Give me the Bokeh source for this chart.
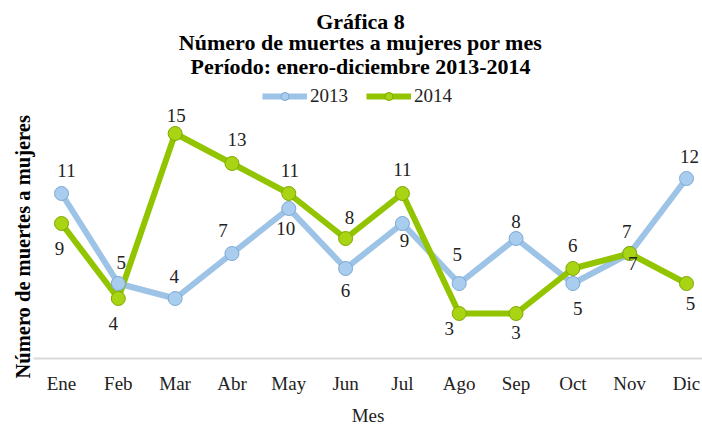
import math
from bokeh.plotting import figure
from bokeh.models import ColumnDataSource, FixedTicker, Label, Legend, LegendItem, Title
from bokeh.core.properties import value
from bokeh.embed import file_html
from bokeh.resources import INLINE

months = ["Ene", "Feb", "Mar", "Abr", "May", "Jun", "Jul", "Ago", "Sep", "Oct", "Nov", "Dic"]
deaths_2013 = [11, 5, 4, 7, 10, 6, 9, 5, 8, 5, 7, 12]
deaths_2014 = [9, 4, 15, 13, 11, 8, 11, 3, 3, 6, 7, 5]

# label placement (screen px offsets, style only)
dx13 = [5, 3, -1, -9, -3, 0, 2, -2, 0, 5, -3, 3]
dy13 = [-23, -21, -22, -23, 20, 22, 17, -29, -17, 25, -22, -22]
dx14 = [-2, -5, 1, 5, 1, 4, 0, -10, 0, 0, 3, 4]
dy14 = [25, 25, -18, -24, -23, -21, -24, 15, 19, -23, 10, 20]

FONT = "Liberation Serif"
TXT = "#222222"
BLUE = "#9DC3E6"
BLUE_M = "#A8CDEE"
BLUE_E = "#7EA8D2"
GREEN = "#92C400"
GREEN_M = "#A8D414"
GREEN_E = "#7FA800"

xs = list(range(len(months)))
src13 = ColumnDataSource(dict(x=xs, y=deaths_2013, t=[str(v) for v in deaths_2013], dx=dx13, dy=dy13))
src14 = ColumnDataSource(dict(x=xs, y=deaths_2014, t=[str(v) for v in deaths_2014], dx=dx14, dy=dy14))

p = figure(frame_width=669, frame_height=358, output_backend="svg", toolbar_location=None,
           x_range=(-0.4928, 11.2814), y_range=(0, 23.867),
           min_border_left=33, min_border_right=0, min_border_top=0, min_border_bottom=0)
p.outline_line_color = None
p.background_fill_color = "white"
p.border_fill_color = "white"
p.grid.visible = False
p.yaxis.visible = False

ax = p.xaxis[0]
ax.ticker = FixedTicker(ticks=xs)
ax.major_label_overrides = {i: m for i, m in enumerate(months)}
ax.axis_line_color = "#D9D9D9"
ax.axis_line_width = 2
ax.major_tick_line_color = None
ax.minor_tick_line_color = None
ax.major_label_text_font = FONT
ax.major_label_text_font_size = "19px"
ax.major_label_text_color = TXT
ax.major_label_standoff = 8
ax.axis_label = "Mes"
ax.axis_label_text_font = FONT
ax.axis_label_text_font_size = "19px"
ax.axis_label_text_font_style = "normal"
ax.axis_label_text_color = TXT
ax.axis_label_standoff = 8

l13 = p.line("x", "y", source=src13, line_color=BLUE, line_width=6, line_join="round")
l14 = p.line("x", "y", source=src14, line_color=GREEN, line_width=6, line_join="round")
c13 = p.scatter("x", "y", source=src13, size=14, fill_color=BLUE_M, line_color=BLUE_E, line_width=1)
c14 = p.scatter("x", "y", source=src14, size=14, fill_color=GREEN_M, line_color=GREEN_E, line_width=1)

for s in (src13, src14):
    p.text("x", "y", text="t", source=s, x_offset="dx", y_offset="dy",
           text_font=value(FONT), text_font_size="19px", text_color=TXT,
           text_align="center", text_baseline="middle")

titles = ["Gráfica 8", "Número de muertes a mujeres por mes", "Período: enero-diciembre 2013-2014"]
title_y = [337.5, 316.0, 292.5]
for t, ty in zip(titles, title_y):
    p.add_layout(Label(x=327, y=ty, x_units="screen", y_units="screen", text=t,
                       text_font=FONT, text_font_size="22px", text_font_style="bold",
                       text_align="center", text_baseline="middle", text_color="#000000"))

p.add_layout(Title(text="Número de muertes a mujeres", align="left", offset=-20, standoff=0,
                   text_font=FONT, text_font_size="20.5px", text_font_style="bold",
                   text_color="#000000"), "left")

legend = Legend(items=[LegendItem(label="2013", renderers=[l13, c13]),
                       LegendItem(label="2014", renderers=[l14, c14])],
                location=(229, 251), orientation="horizontal",
                border_line_color=None, background_fill_alpha=0,
                padding=0, margin=0, spacing=18, label_standoff=3,
                glyph_width=45, glyph_height=20, label_height=20,
                label_text_font=FONT, label_text_font_size="19px", label_text_color=TXT)
p.add_layout(legend)

open("out.html", "w").write(file_html(p, INLINE))
